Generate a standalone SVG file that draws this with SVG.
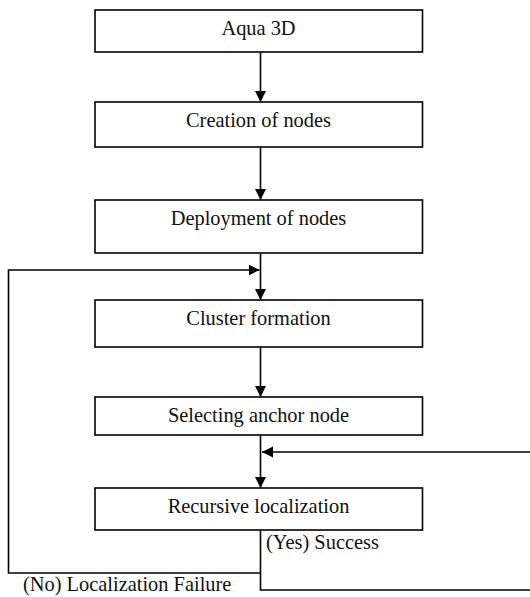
<svg xmlns="http://www.w3.org/2000/svg" width="530" height="597" viewBox="0 0 530 597">
<style>
.box{fill:#fff;stroke:#000;stroke-width:1.6}
.lbl{font-family:"Liberation Serif","Times New Roman",serif;font-size:20.4px;fill:#111;text-anchor:middle}
.note{font-family:"Liberation Serif","Times New Roman",serif;font-size:20.4px;fill:#111}
.con{fill:none;stroke:#000;stroke-width:1.6}
</style>
<defs>
<marker id="ah" markerUnits="userSpaceOnUse" markerWidth="12" markerHeight="12" viewBox="0 0 12 12" refX="11" refY="6" orient="auto">
<path d="M0,0.5 L11,6 L0,11.5 Z" fill="#000"/>
</marker>
</defs>
<rect width="530" height="597" fill="#fff"/>
<g id="connectors">
<line class="con" x1="260.5" y1="52" x2="260.5" y2="102" marker-end="url(#ah)"/>
<line class="con" x1="260.5" y1="147" x2="260.5" y2="200" marker-end="url(#ah)"/>
<line class="con" x1="260.5" y1="253" x2="260.5" y2="300" marker-end="url(#ah)"/>
<line class="con" x1="260.5" y1="347" x2="260.5" y2="397" marker-end="url(#ah)"/>
<line class="con" x1="260.5" y1="435" x2="260.5" y2="488" marker-end="url(#ah)"/>
<line class="con" x1="530" y1="452" x2="262" y2="452" marker-end="url(#ah)"/>
<polyline class="con" points="260.5,530 260.5,590 530,590"/>
<polyline class="con" points="260.5,573 8.5,573 8.5,270 259.5,270" marker-end="url(#ah)"/>
</g>
<g id="n1"><rect class="box" x="95" y="10" width="327.5" height="42"/><text class="lbl" x="258.5" y="35">Aqua 3D</text></g>
<g id="n2"><rect class="box" x="95" y="102" width="327.5" height="45"/><text class="lbl" x="258.5" y="127">Creation of nodes</text></g>
<g id="n3"><rect class="box" x="95" y="200" width="327.5" height="53"/><text class="lbl" x="258.5" y="225">Deployment of nodes</text></g>
<g id="n4"><rect class="box" x="95" y="300" width="327.5" height="47"/><text class="lbl" x="258.5" y="325">Cluster formation</text></g>
<g id="n5"><rect class="box" x="95" y="397" width="327.5" height="38"/><text class="lbl" x="258.5" y="422">Selecting anchor node</text></g>
<g id="n6"><rect class="box" x="95" y="488" width="327.5" height="42"/><text class="lbl" x="258.5" y="513">Recursive localization</text></g>
<g id="labels">
<text class="note" x="266" y="549">(Yes) Success</text>
<text class="note" x="23" y="591">(No) Localization Failure</text>
</g>
</svg>
